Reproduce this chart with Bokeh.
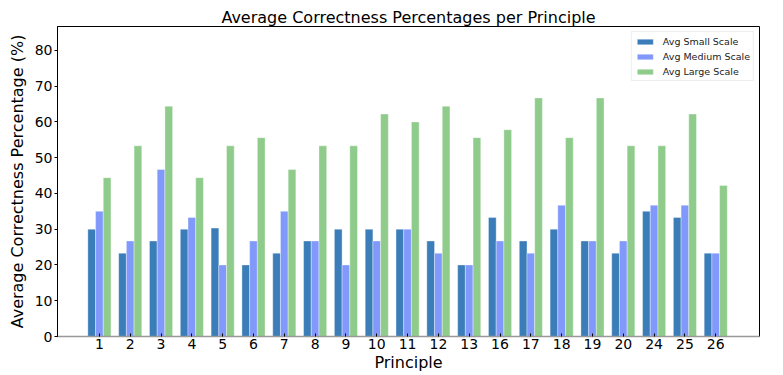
from bokeh.plotting import figure
from bokeh.models import Range1d, FixedTicker, Legend, LegendItem, Title
from bokeh.embed import file_html
from bokeh.resources import INLINE

principles = ["1", "2", "3", "4", "5", "6", "7", "8", "9", "10", "11", "12", "13",
              "16", "17", "18", "19", "20", "24", "25", "26"]
avg_small = [30.0, 23.3, 26.7, 30.0, 30.3, 20.0, 23.3, 26.7, 30.0, 30.0, 30.0, 26.7, 20.0,
             33.3, 26.7, 30.0, 26.7, 23.3, 35.0, 33.3, 23.3]
avg_medium = [35.0, 26.7, 46.7, 33.3, 20.0, 26.7, 35.0, 26.7, 20.0, 26.7, 30.0, 23.3, 20.0,
              26.7, 23.3, 36.7, 26.7, 26.7, 36.7, 36.7, 23.3]
avg_large = [44.4, 53.3, 64.4, 44.4, 53.3, 55.6, 46.7, 53.3, 53.3, 62.2, 60.0, 64.4, 55.6,
             57.8, 66.7, 55.6, 66.7, 53.3, 53.3, 62.2, 42.2]
series_names = ["Avg Small Scale", "Avg Medium Scale", "Avg Large Scale"]
colors = ["#3a7db8", "#8099fb", "#8fcc8b"]

FONT = "DejaVu Sans"
xs = list(range(len(principles)))
bw = 0.25

p = figure(width=783, height=375, output_backend="svg", toolbar_location=None,
           x_range=Range1d(-1.36, len(principles) - 1 + 1.42),
           y_range=Range1d(0, 86.67),
           min_border_left=57, min_border_right=24, min_border_top=26, min_border_bottom=39)

p.title = Title(text="Average Correctness Percentages per Principle", align="center",
                text_font=FONT, text_font_size="16px", text_font_style="normal",
                text_color="black", standoff=0, offset=0)

renderers = []
for i, vals in enumerate([avg_small, avg_medium, avg_large]):
    off = (i - 1) * bw
    r = p.vbar(x=[x + off for x in xs], top=vals, width=bw, bottom=0,
               fill_color=colors[i], line_color="white", line_width=0.6, line_alpha=0.6)
    renderers.append(r)

legend = Legend(items=[LegendItem(label=n, renderers=[r]) for n, r in zip(series_names, renderers)],
                location="top_right", label_text_font=FONT, label_text_font_size="9.5px",
                label_text_color="#222222",
                glyph_width=20, glyph_height=7, label_height=12, spacing=3,
                padding=3, margin=5, border_line_color="#dddddd", border_line_width=1,
                label_standoff=8)
p.add_layout(legend)

p.xgrid.visible = False
p.ygrid.visible = False
p.outline_line_color = "black"
p.outline_line_width = 1

p.xaxis.ticker = FixedTicker(ticks=xs)
p.xaxis.major_label_overrides = {x: lab for x, lab in zip(xs, principles)}
p.xaxis.axis_label = "Principle"
p.yaxis.axis_label = "Average Correctness Percentage (%)"
p.yaxis.ticker = FixedTicker(ticks=[0, 10, 20, 30, 40, 50, 60, 70, 80])

for ax in (p.xaxis[0], p.yaxis[0]):
    ax.axis_label_text_font = FONT
    ax.axis_label_text_font_size = "16px"
    ax.axis_label_text_font_style = "normal"
    ax.axis_label_text_color = "black"
    ax.major_label_text_font = FONT
    ax.major_label_text_font_size = "14px"
    ax.major_label_text_color = "black"
    ax.minor_tick_line_color = None

p.xaxis.major_tick_in = 3
p.xaxis.major_tick_out = 0
p.yaxis.major_tick_in = 0
p.yaxis.major_tick_out = 3

p.xaxis.major_label_standoff = 2
p.xaxis.axis_label_standoff = 1
p.yaxis.major_label_standoff = 2
p.yaxis.axis_label_standoff = 5

p.xaxis.axis_line_color = "#999999"
p.xaxis.axis_line_width = 1.5
p.yaxis.axis_line_color = "black"

open("out.html", "w").write(file_html(p, INLINE))
